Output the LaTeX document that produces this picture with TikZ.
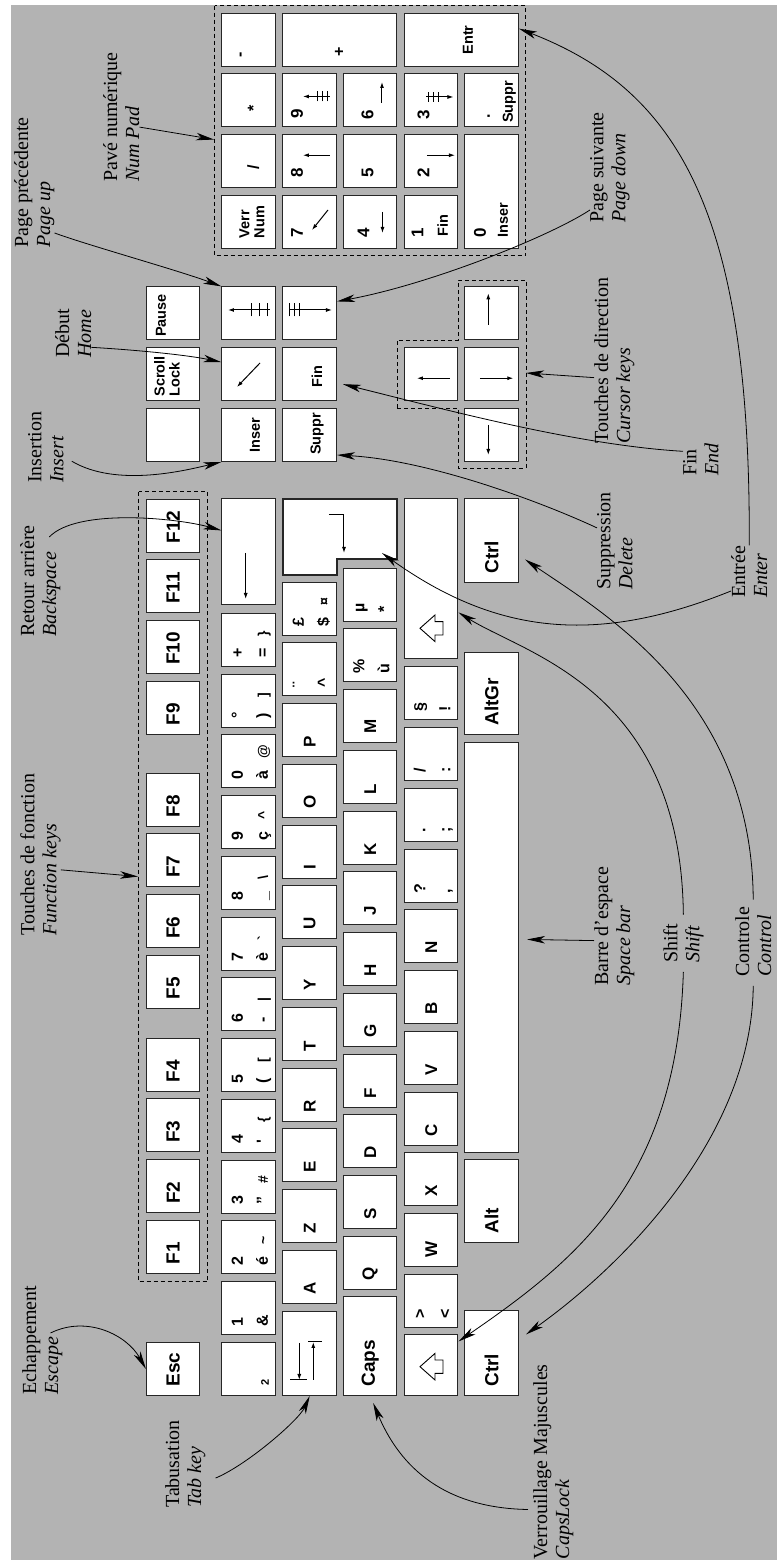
\documentclass[tikz,border=0pt]{standalone}
\usepackage{fontspec}
\setmainfont{Liberation Serif}
\setsansfont{Liberation Sans}
\usetikzlibrary{positioning, calc, arrows.meta}
\definecolor{fond}{HTML}{B3B3B3}

\begin{document}
\begin{tikzpicture}[x=1pt, y=1pt, rotate=90, transform shape,
    kbox/.style={draw=black!85, fill=white, line width=1.1pt, anchor=south west,
      minimum width=53pt, minimum height=53.5pt, inner sep=0pt},
    keycap/.style={kbox, text width=35pt, inner xsep=9pt, align=left,
      font=\sffamily\bfseries\fontsize{17}{17}\selectfont},
    keybig/.style={keycap, font=\sffamily\bfseries\fontsize{19}{19}\selectfont},
    sym/.style={anchor=base west, inner sep=0pt, font=\sffamily\bfseries\fontsize{16}{16}\selectfont},
    altg/.style={sym, font=\sffamily\bfseries\fontsize{14}{14}\selectfont},
    ksml/.style={inner sep=0pt, align=left, font=\sffamily\bfseries\fontsize{14.5}{15}\selectfont},
    glyph/.style={line width=1pt},
    garr/.style={glyph, -{Latex[length=6pt, width=4pt]}},
    hollow/.style={draw=black, line width=0.9pt, fill=white},
    dashbox/.style={draw, dash pattern=on 4pt off 3pt, line width=0.9pt, anchor=south west, inner sep=0pt},
    lbl/.style={font=\fontsize{20}{22}\selectfont, align=left, inner sep=0pt, anchor=north west},
    arr/.style={-{Stealth[length=18pt, width=7.5pt, inset=5pt]}, line width=0.8pt}]

  \useasboundingbox (0,0) rectangle (1560,777);
  \fill[fond] (0,0) rectangle (1555,766);

  \node[dashbox, minimum width=790pt, minimum height=69pt] (fbox) at (278,569) {};
  \node[dashbox, minimum width=250pt, minimum height=311pt] (numbox) at (1304,251) {};
  \draw[dash pattern=on 4pt off 3pt, line width=0.9pt] (1152,380) -- (1220,380) -- (1220,319)
    -- (1280,319) -- (1280,251) -- (1092,251) -- (1092,319) -- (1152,319) -- cycle;
  \coordinate (curs) at (1187,251);

  % function row
  \node[keybig] (esc) at (164,576.5) {Esc};
  \foreach \f/\px in {1/286, 2/346.75, 3/407.5, 4/468.25, 5/551, 6/611.75, 7/672.5, 8/733.25,
      9/825, 10/885.75, 11/946.5, 12/1007.25}
    \node[keybig] (f\f) at (\px,576.5) {F\f};

  % number row
  \node[kbox] (n0) at (164,501) {};
  \node[sym, font=\sffamily\bfseries\fontsize{11}{11}\selectfont] at ($(n0.south west)+(10,7)$) {2};
  \foreach \i/\ka/\kb in {1/1/\&, 2/2/é, 3/3/", 4/4/\textquotesingle, 5/5/(, 6/6/-, 7/7/è,
      8/8/\_, 9/9/ç, 10/0/à, 11/°/), 12/+/=} {
    \node[kbox] (n\i) at (164+60.75*\i,501) {};
    \node[sym] at ($(n\i.south west)+(9,33)$) {\ka};
    \node[sym] at ($(n\i.south west)+(9,8)$) {\kb};
  }
  \foreach \i/\kc in {2/\textasciitilde, 3/\#, 4/\{, 5/{[}, 6/|, 7/\textasciigrave,
      8/\textbackslash, 9/\textasciicircum, 10/@, 11/{]}, 12/\}}
    \node[altg] at ($(n\i.south west)+(30,8)$) {\kc};
  \node[kbox, minimum width=106pt] (bksp) at (955,501) {};
  \draw[garr] ($(bksp.south west)+(52,30.3)$) -- ++(-46,0);

  % letter rows
  \node[kbox, minimum width=84pt] (tab) at (164,440) {};
  \draw[garr] ($(tab.south west)+(53,37.7)$) -- ++(-37,0);
  \draw[glyph] ($(tab.south west)+(16,30)$) -- ++(0,17);
  \draw[garr] ($(tab.south west)+(16,23.7)$) -- ++(38,0);
  \draw[glyph] ($(tab.south west)+(54.3,15)$) -- ++(0,14);
  \foreach \l [count=\i from 0] in {A,Z,E,R,T,Y,U,I,O,P}
    \node[keycap] (a\i) at (256+60.75*\i,440) {\l};

  \node[keybig, minimum width=99pt, text width=81pt] (caps) at (164,379.5) {Caps};
  \foreach \l [count=\i from 0] in {Q,S,D,F,G,H,J,K,L,M}
    \node[keycap] (q\i) at (270+60.75*\i,379.5) {\l};

  \node[kbox, minimum width=61pt] (lshift) at (164,318.5) {};
  \foreach \l [count=\i from 1] in {W,X,C,V,B,N}
    \node[keycap] (w\i) at (232+60.75*\i,318.5) {\l};
  \node[kbox, minimum width=160pt] (rshift) at (901,318.5) {};
  \foreach \k/\dx in {lshift/29.3, rshift/30.7}
    \draw[hollow] ($(\k.south west)+(\dx,38.5)$) -- ++(13.3,-15) -- ++(-6.6,0) -- ++(0,-8)
      -- ++(-13.4,0) -- ++(0,8) -- ++(-6.6,0) -- cycle;

  \foreach \nm/\px/\py/\ka/\kb in {a10/863.5/440/¨/\textasciicircum, a11/924.25/440/£/\$,
      q10/877.5/379.5/\%/ù, q11/938.25/379.5/µ/*, w0/232/318.5/>/<, w7/657.25/318.5/?/{,},
      w8/718/318.5/./;, w9/778.75/318.5/{/}/:, w10/839.5/318.5/§/!} {
    \node[kbox] (\nm) at (\px,\py) {};
    \node[sym] at ($(\nm.south west)+(9,33)$) {\ka};
    \node[sym] at ($(\nm.south west)+(9,8)$) {\kb};
  }
  \node[altg] at ($(a11.south west)+(30,8)$) {¤};

  \draw[draw=black!85, fill=white, line width=1.1pt] (985,494) -- (1061,494) -- (1061,380)
    -- (1001,380) -- (1001,440) -- (985,440) -- cycle;
  \draw[garr] (1045,448) -- (1045,433) -- (1007,433);
  \coordinate (entk) at (1007,395);

  % bottom row
  \node[keybig, minimum width=85pt, text width=67pt] (lctrl) at (164,258) {Ctrl};
  \node[keybig, minimum width=83pt, text width=65pt] (alt) at (317,258) {Alt};
  \node[kbox, minimum width=410pt] (spc) at (407,258) {};
  \node[keybig, minimum width=82pt, text width=64pt] (altgr) at (825,258) {AltGr};
  \node[keybig, minimum width=84pt, text width=66pt] (rctrl) at (977,258) {Ctrl};

  % editing keys
  \node[kbox] (prt) at (1098,576.5) {};
  \node[kbox] (scrl) at (1158.75,576.5) {};
  \node[kbox] (pause) at (1219.5,576.5) {};
  \node[ksml] at ($(scrl.south west)+(25,33.5)$) {Scroll\\Lock};
  \node[ksml] at ($(pause.south west)+(25,39.5)$) {Pause};
  \node[kbox] (ins) at (1098,501) {};
  \node[kbox] (home) at (1158.75,501) {};
  \node[kbox] (pgup) at (1219.5,501) {};
  \node[ksml] at ($(ins.south west)+(27,21)$) {Inser};
  \draw[garr] ($(home.south west)+(38.25,16)$) -- ++(-24,23);
  \draw[garr] ($(pgup.south west)+(30.5,6)$) -- ++(0,42);
  \foreach \d in {8,16,24}
    \draw[glyph] ($(pgup.south west)+(24,\d)$) -- ++(13,0);
  \node[kbox] (suppr) at (1098,440) {};
  \node[kbox] (fin) at (1158.75,440) {};
  \node[kbox] (pgdn) at (1219.5,440) {};
  \node[ksml] at ($(suppr.south west)+(28,20)$) {Suppr};
  \node[ksml] at ($(fin.south west)+(25,20)$) {Fin};
  \draw[garr] ($(pgdn.south west)+(30.5,47)$) -- ++(0,-42);
  \foreach \d in {37,42,47}
    \draw[glyph] ($(pgdn.south west)+(24,\d)$) -- ++(13,0);

  \node[kbox] (kup) at (1158.75,318.5) {};
  \node[kbox] (kleft) at (1098,258) {};
  \node[kbox] (kdown) at (1158.75,258) {};
  \node[kbox] (kright) at (1219.5,258) {};
  \draw[garr] ($(kup.south west)+(23,8.5)$) -- ++(0,33);
  \draw[garr] ($(kdown.south west)+(23,39)$) -- ++(0,-33.3);
  \draw[garr] ($(kleft.south west)+(37,30.7)$) -- ++(-30,0);
  \draw[garr] ($(kright.south west)+(15.5,30.7)$) -- ++(31.7,0);

  % numeric pad
  \node[kbox] (verr) at (1311,501) {};
  \node[kbox] (ndiv) at (1371.75,501) {};
  \node[kbox] (nmul) at (1432.5,501) {};
  \node[kbox] (nsub) at (1493.25,501) {};
  \node[ksml] at ($(verr.south west)+(27,24)$) {Verr\\Num};
  \node[sym] at ($(ndiv.south west)+(18.5,17)$) {/};
  \node[sym] at ($(nmul.south west)+(16,17)$) {*};
  \node[sym] at ($(nsub.south west)+(9,31)$) {-};
  \node[kbox, minimum height=114.5pt] (nadd) at (1493.25,379.5) {};
  \node[sym] at ($(nadd.south west)+(10,53)$) {+};
  \foreach \nm/\px/\py/\dx/\dy/\d in {n7/1311/440/11/34/7, n8/1371.75/440/11/34/8,
      n9/1432.5/440/9/34/9, n4/1311/379.5/11/28/4, n5/1371.75/379.5/11/24/5,
      n6/1432.5/379.5/8/24/6, n1/1311/318.5/11/35/1, n2/1371.75/318.5/11/29/2,
      n3/1432.5/318.5/8/29/3} {
    \node[kbox] (\nm) at (\px,\py) {};
    \node[sym, font=\sffamily\bfseries\fontsize{17}{17}\selectfont] at ($(\nm.south west)+(\dx,\dy)$) {\d};
  }
  \draw[garr] ($(n7.south west)+(39,9)$) -- ++(-20,16);
  \draw[garr] ($(n8.south west)+(33,7)$) -- ++(0,27);
  \draw[garr] ($(n9.south west)+(31,7)$) -- ++(0,27);
  \foreach \d in {9,14,19}
    \draw[glyph] ($(n9.south west)+(26,\d)$) -- ++(10,0);
  \draw[garr] ($(n4.south west)+(37,15)$) -- ++(-21,0);
  \draw[garr] ($(n6.south west)+(24.5,15.5)$) -- ++(21,0);
  \node[ksml, anchor=base west] at ($(n1.south west)+(12,10.5)$) {Fin};
  \draw[garr] ($(n2.south west)+(33,31.5)$) -- ++(0,-28);
  \draw[garr] ($(n3.south west)+(30.5,32)$) -- ++(0,-27);
  \foreach \d in {20,25,30}
    \draw[glyph] ($(n3.south west)+(25.5,\d)$) -- ++(10,0);
  \node[kbox, minimum width=114pt] (nzero) at (1311,258) {};
  \node[sym, font=\sffamily\bfseries\fontsize{17}{17}\selectfont] at ($(nzero.south west)+(11,33)$) {0};
  \node[ksml, anchor=base west] at ($(nzero.south west)+(11,11)$) {Inser};
  \node[kbox] (ndot) at (1432.5,258) {};
  \node[sym] at ($(ndot.south west)+(8.5,29)$) {.};
  \node[ksml, anchor=base west] at ($(ndot.south west)+(4.5,6)$) {Suppr};
  \node[kbox, minimum height=114pt] (entr) at (1493.25,258) {};
  \node[ksml] at ($(entr.south west)+(26.75,51)$) {Entr};

  % labels
  \node[lbl] (pave) at (1378,674) {Pavé numérique\\\textit{Num Pad}};
  \node[lbl] (pgprec) at (1312,763) {Page précédente\\\textit{Page up}};
  \node[lbl] (debut) at (1202,722) {Début\\\textit{Home}};
  \node[lbl] (insl) at (1077,749) {Insertion\\\textit{Insert}};
  \node[lbl] (retour) at (923,757) {Retour arrière\\\textit{Backspace}};
  \node[lbl] (fonc) at (624,757) {Touches de fonction\\\textit{Function keys}};
  \node[lbl] (echap) at (165,755) {Echappement\\\textit{Escape}};
  \node[lbl] (tabl) at (52,612) {Tabusation\\\textit{Tab key}};
  \node[lbl] (verrl) at (0.5,244) {Verrouillage Majuscules\\\textit{CapsLock}};
  \node[lbl] (pgsuiv) at (1337,187) {Page suivante\\\textit{Page down}};
  \node[lbl] (direc) at (1116,183) {Touches de direction\\\textit{Cursor keys}};
  \node[lbl] (finl) at (1084,94) {Fin\\\textit{End}};
  \node[lbl] (suppl) at (970,180) {Suppression\\\textit{Delete}};
  \node[lbl] (entl) at (962,46) {Entrée\\\textit{Enter}};
  \node[lbl] (spcl) at (574,183) {Barre d'espace\\\textit{Space bar}};
  \node[lbl] (shiftl) at (597,114) {Shift\\\textit{Shift}};
  \node[lbl] (ctrll) at (583,42) {Controle\\\textit{Control}};

  % connectors
  \draw[arr] ([xshift=-10pt]pave.south) -- ([xshift=-9pt]numbox.north);
  \draw[arr] ([xshift=15pt]pgprec.south west) .. controls (1315,690) and (1290,600) .. (pgup.north east);
  \draw[arr] ([xshift=-14pt]debut.south) .. controls (1210,640) and (1205,590) .. ([xshift=12pt]home.north);
  \draw[arr] ([shift={(-14,-8)}]insl.south) .. controls (1072,660) and (1090,590) .. (ins.north west);
  \draw[arr] ([shift={(-12,-9)}]retour.east) .. controls (1052,700) and (1042,600) .. ([xshift=21pt]bksp.north);
  \draw[arr] ([xshift=-15pt]fonc.south) -- ([xshift=10pt]fbox.north);
  \draw[arr] ($(echap.south west)+(62,12)$) .. controls (245,690) and (225,650) .. (esc.north);
  \draw[arr] ([shift={(-14,-10)}]tabl.south) .. controls (95,530) and (140,478) .. (tab.west);
  \draw[arr] ([shift={(50,5)}]verrl.north west) .. controls (52,340) and (100,380) .. ([shift={(-7,-3)}]caps.west);
  \draw[arr] ([xshift=13pt]pgsuiv.north west) .. controls (1322,230) and (1275,350) .. ([xshift=12pt]pgdn.south);
  \draw[arr] ([xshift=-17pt]direc.north) -- (curs);
  \draw[arr] ([xshift=-8pt]finl.north east) .. controls (1115,200) and (1150,330) .. ([shift={(-10,-6)}]fin.south);
  \draw[arr] ([xshift=13pt]suppl.north) .. controls (1060,240) and (1100,350) .. ([xshift=7pt]suppr.south west);
  \draw[arr] ([xshift=7pt]entl.north west) .. controls (915,180) and (925,280) .. (entk);
  \draw[arr] (entl.east) .. controls (1350,26) and (1470,100) .. ([xshift=11pt]entr.south);
  \draw[arr] ([xshift=-14.5pt]spcl.north) -- ([shift={(8,-8)}]spc.south);
  \draw[arr] ([xshift=9pt]shiftl.east) .. controls (870,96) and (905,250) .. ([xshift=-34pt]rshift.south);
  \draw[arr] ([xshift=-9pt]shiftl.west) .. controls (380,100) and (300,200) .. ([xshift=23.5pt]lshift.south);
  \draw[arr] ([xshift=7pt]ctrll.east) .. controls (860,25) and (945,170) .. ([shift={(-19,-6)}]rctrl.south);
  \draw[arr] ([xshift=-9pt]ctrll.west) .. controls (420,25) and (290,160) .. ([shift={(18.5,-7)}]lctrl.south);
\end{tikzpicture}
\end{document}
